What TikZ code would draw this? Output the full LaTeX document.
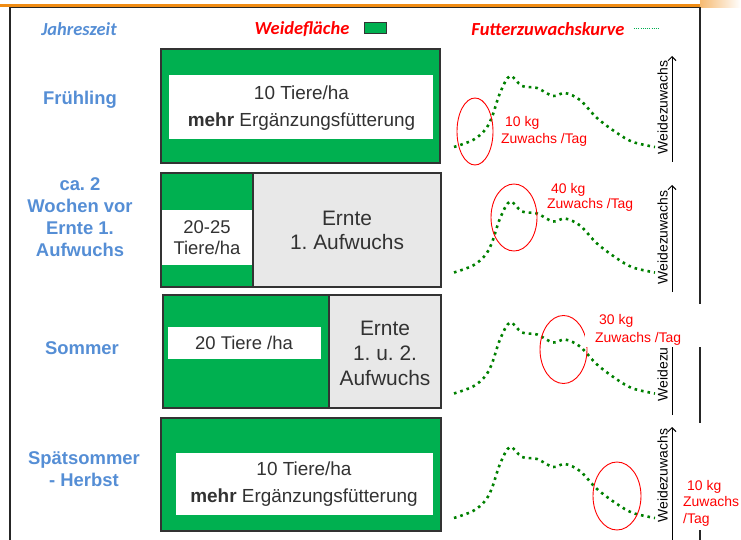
\documentclass[tikz,border=0pt]{standalone}
\usepackage{fontspec}
\setmainfont{Liberation Sans}
\newfontfamily\hdrfont{Carlito}
\usetikzlibrary{arrows.meta}
\definecolor{weide}{RGB}{0,176,80}
\definecolor{ernte}{RGB}{232,232,232}
\definecolor{seasonblue}{RGB}{85,142,213}
\definecolor{kurve}{RGB}{0,128,0}
\definecolor{boxtext}{RGB}{50,50,50}
\definecolor{topbar}{RGB}{240,140,20}
\newcommand{\fsz}[2]{\fontsize{#1}{#2}\selectfont}
\frenchspacing

\begin{document}
\begin{tikzpicture}[x=1bp,y=-1bp,
  pasture/.style={fill=weide, draw=black!80, line width=1.2bp},
  harvest/.style={fill=ernte, draw=black!80, line width=1.2bp},
  boxtxt/.style={text=boxtext, align=center, font=\fsz{19}{27}, inner sep=0},
  season/.style={text=seasonblue, font=\bfseries\fsz{18.5}{22}, align=center, inner sep=0},
  head/.style={font=\hdrfont\bfseries\itshape\fsz{18.5}{22}, inner sep=0},
  growth/.style={kurve, line width=2.6bp, dash pattern=on 2.6bp off 4bp},
  peak/.style={red, line width=0.9bp},
  rate/.style={red, align=left, inner sep=0, anchor=west},
  axis/.style={line width=1bp, -{Straight Barb[length=4bp,width=8bp]}},
  axislabel/.style={rotate=90, anchor=south, inner sep=0, font=\fsz{14}{17}}]
\useasboundingbox (0,0) rectangle (741,540);

% top bar and frame
\fill[topbar] (0,4.5) rectangle (700,7);
\shade[left color=topbar!60, right color=white] (700,0) rectangle (741,8);
\draw[line width=1.3bp, black!85] (10,540) -- (10,7.5) -- (700,7.5) -- (700,540);

% column headings
\node[head, text=seasonblue] (hj) at (79,29) {Jahreszeit};
\node[head, text=red] (hw) at (302,29) {Weidefläche};
\draw[fill=weide, draw=black!80, line width=1bp] (364,23) rectangle (386,34);
\node[head, text=red] (hf) at (548,29) {Futterzuwachskurve};
\draw[weide, line width=1bp, dash pattern=on 1bp off 1.2bp] (634,29) -- (660,29);

% seasons
\node[season] (s1) at (80,99.5) {Frühling};
\node[season] (s2) at (80,217) {ca. 2\\Wochen vor\\Ernte 1.\\Aufwuchs};
\node[season] (s3) at (82,348.5) {Sommer};
\node[season] (s4) at (84,469.5) {Spätsommer\\- Herbst};

% pasture areas
\draw[pasture] (161,49) rectangle (440,163);
\fill[white] (169,75) rectangle (433,139);
\node[boxtxt] (p1) at (301.5,108.5) {10 Tiere/ha\\\textbf{mehr} Ergänzungsfütterung};

\draw[pasture] (161,173) rectangle (253,287);
\draw[harvest] (253,173) rectangle (441,287);
\fill[white] (161.6,210) rectangle (252.4,265);
\node[boxtxt, font=\fsz{18.5}{21}] (p2) at (207,238) {20-25\\Tiere/ha};
\node[boxtxt, font=\fsz{21}{24}] (h2) at (347,230) {Ernte\\1. Aufwuchs};

\draw[pasture] (163,295) rectangle (329,408);
\draw[harvest] (329,295) rectangle (441,408);
\fill[white] (168,327) rectangle (321,359);
\node[boxtxt, font=\fsz{18.5}{21}] (p3) at (244,343) {20 Tiere /ha};
\node[boxtxt, font=\fsz{21}{25}] (h3) at (385,353) {Ernte\\1. u. 2.\\Aufwuchs};

\draw[pasture] (161,418) rectangle (441,531);
\fill[white] (176,453) rectangle (433,515);
\node[boxtxt] (p4) at (304,484.5) {10 Tiere/ha\\\textbf{mehr} Ergänzungsfütterung};

% growth axes
\draw[axis] (672,162) -- (672,56);
\draw[axis] (672,292) -- (672,185);
\draw[axis] (672,415) -- (672,306);
\draw[axis] (672,545) -- (672,427);
\node[axislabel] (a1) at (668,107.5) {Weidezuwachs};
\node[axislabel] (a2) at (668,237.5) {Weidezuwachs};
\node[axislabel] (a3) at (668,354.5) {Weidezuwachs};
\node[axislabel] (a4) at (668,475.5) {Weidezuwachs};

% growth curves
\foreach \dy in {0,125.5,246.5,371} {
  \begin{scope}[shift={(0,\dy)}]
    \draw[growth] plot[smooth, tension=0.55] coordinates {(454,147) (473,140) (485,130)
      (492,117) (500,93) (510,76) (522,86) (537,88) (553,96) (565,93) (580,100)
      (597,118) (617,133) (633,142) (655,147)};
  \end{scope}
}

% marked growth phases
\draw[peak] (475,131.5) ellipse [x radius=18, y radius=33.5];
\draw[peak] (514,217.5) ellipse [x radius=23, y radius=33.5];
\draw[peak] (563.5,349.5) ellipse [x radius=23.5, y radius=34];
\draw[peak] (617,496) ellipse [x radius=24, y radius=34];

% daily growth rates
\node[rate, font=\fsz{14}{17}] (g1) at (501,131.5) {\hspace*{4bp}10 kg\\Zuwachs /Tag};
\node[rate, font=\fsz{14}{14.5}] (g2) at (547,197.5) {\hspace*{4bp}40 kg\\Zuwachs /Tag};
\fill[white] (585,304) rectangle (703,347);
\node[rate, font=\fsz{14}{18}] (g3) at (595,329.5) {\hspace*{4bp}30 kg\\Zuwachs /Tag};
\fill[white] (680,423) rectangle (741,530);
\node[rate, font=\fsz{14}{16.5}] (g4) at (683,503) {\hspace*{4bp}10 kg\\Zuwachs\\/Tag};
\end{tikzpicture}
\end{document}
